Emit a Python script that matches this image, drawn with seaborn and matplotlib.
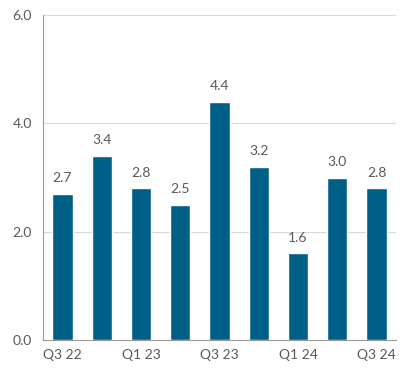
import matplotlib
matplotlib.use("Agg")
import matplotlib.pyplot as plt
import seaborn as sns
import pandas as pd
import numpy as np

# quarterly values
quarters = ['Q3 22', 'Q4 22', 'Q1 23', 'Q2 23', 'Q3 23', 'Q4 23', 'Q1 24', 'Q2 24', 'Q3 24']
values = [2.7, 3.4, 2.8, 2.5, 4.4, 3.2, 1.6, 3.0, 2.8]
shown_labels = ['Q3 22', '', 'Q1 23', '', 'Q3 23', '', 'Q1 24', '', 'Q3 24']
y_ticks = [0.0, 2.0, 4.0, 6.0]

df = pd.DataFrame({'quarter': quarters, 'value': values})

sns.set_style('white')
plt.rcParams['font.family'] = ['Lato', 'DejaVu Sans']

text_col = '#595959'
bar_col = '#005f87'

fig = plt.figure(figsize=(4.08, 3.73), dpi=100)
ax = fig.add_axes([0.105, 0.088, 0.866, 0.872])

sns.barplot(data=df, x='quarter', y='value', color=bar_col, saturation=1,
            width=0.52, ax=ax)

ax.set_ylim(0, 6)
ax.set_xlim(-0.5, len(quarters) - 0.5)
ax.set_yticks(y_ticks)
ax.set_yticklabels(['%.1f' % t for t in y_ticks])
ax.yaxis.grid(True, color='#d9d9d9', linewidth=0.8)
ax.set_axisbelow(True)

ax.set_xticks(range(len(quarters)))
ax.set_xticklabels(shown_labels)
ax.set_xticks(np.arange(-0.5, len(quarters)), minor=True)
ax.tick_params(axis='x', which='major', length=0, labelsize=10, colors=text_col, pad=6)
ax.tick_params(axis='x', which='minor', length=4, color='#999999', width=0.8)
ax.tick_params(axis='y', length=4, color='#999999', width=0.8, labelsize=10, colors=text_col, pad=4)

ax.set_xlabel('')
ax.set_ylabel('')
for s in ['top', 'right']:
    ax.spines[s].set_visible(False)
for s in ['left', 'bottom']:
    ax.spines[s].set_color('#999999')
    ax.spines[s].set_linewidth(0.8)

for i, v in enumerate(values):
    ax.annotate('%.1f' % v, (i, v), xytext=(0, 7), textcoords='offset points',
                ha='center', va='bottom', fontsize=10, color=text_col)

fig.savefig('out.png', dpi=100)
